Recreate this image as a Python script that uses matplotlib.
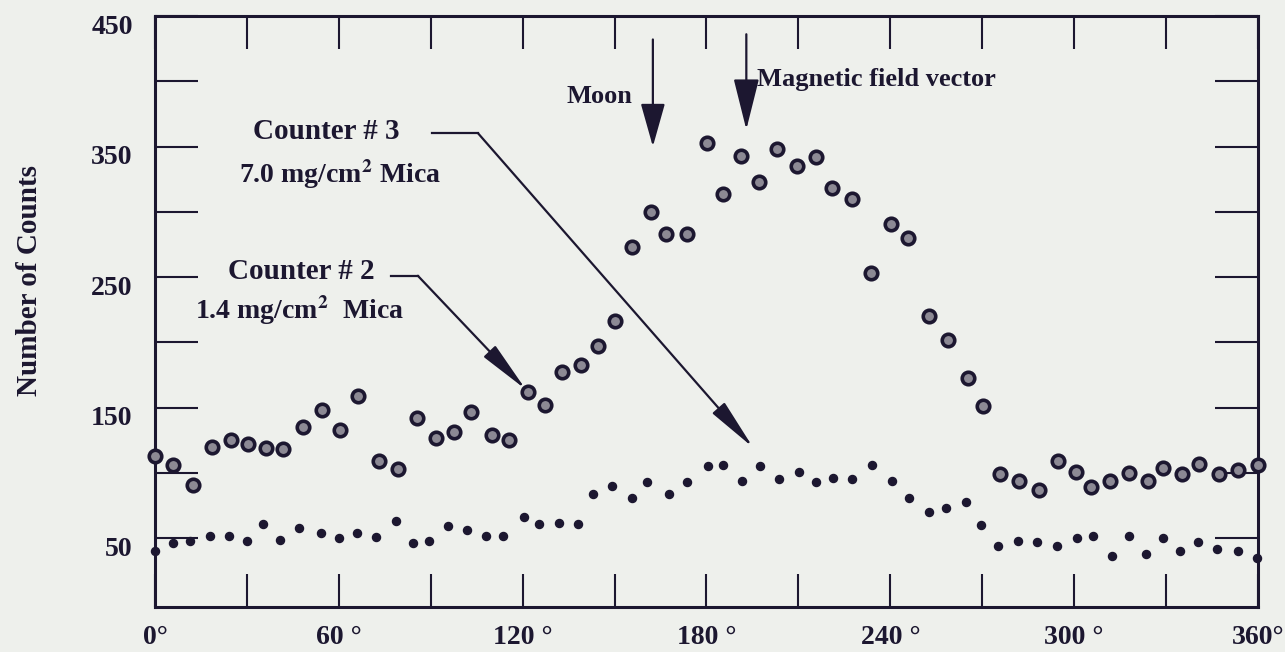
import matplotlib
matplotlib.use("Agg")
import matplotlib.pyplot as plt
import matplotlib.transforms as mtransforms

# counter 2 (1.4 mg/cm2 mica) -- ring markers
c2_angle = [0, 5.8, 12.3, 18.5, 24.7, 30.2, 36.2, 41.7, 48.2, 54.4,
            60.4, 66.4, 73.2, 79.4, 85.4, 91.6, 97.6, 103.0, 109.9, 115.5,
            121.6, 127.3, 132.7, 139.0, 144.7, 150.3, 155.8, 161.8, 166.7, 173.7,
            180.1, 185.5, 191.1, 197.1, 202.9, 209.4, 215.6, 221.0, 227.6, 233.6,
            240.2, 245.8, 252.7, 258.9, 265.2, 270.3, 275.8, 282.1, 288.6, 294.6,
            300.5, 305.5, 311.7, 317.9, 324.0, 329.1, 335.1, 340.8, 347.4, 353.6,
            359.9]
c2_counts = [113, 106, 91, 120, 125, 122, 119, 118, 135, 148,
             133, 159, 109, 103, 142, 127, 131, 147, 129, 125,
             162, 152, 177, 183, 197, 216, 273, 300, 283, 283,
             353, 314, 343, 323, 348, 335, 342, 318, 310, 253,
             291, 280, 220, 202, 173, 151, 99, 94, 87, 109,
             101, 89, 94, 100, 94, 104, 99, 107, 99, 102,
             106]

# counter 3 (7.0 mg/cm2 mica) -- small dots
c3_angle = [0, 5.8, 11.4, 18.0, 24.3, 30.1, 35.3, 40.8, 47.1, 54.1,
            60.1, 66.0, 72.0, 78.7, 84.1, 89.5, 95.7, 101.7, 108.0, 113.7,
            120.3, 125.3, 131.9, 138.2, 142.8, 149.3, 155.6, 160.7, 167.9, 173.5,
            180.5, 185.5, 191.5, 197.6, 203.6, 210.1, 215.7, 221.4, 227.4, 233.9,
            240.4, 246.0, 252.6, 258.2, 264.6, 269.7, 275.2, 281.8, 287.9, 294.5,
            300.8, 306.2, 312.4, 318.0, 323.6, 329.1, 334.5, 340.3, 346.7, 353.6,
            359.6]
c3_counts = [40, 46, 48, 52, 52, 48, 61, 49, 58, 54,
             50, 54, 51, 63, 46, 48, 59, 56, 52, 52,
             66, 61, 62, 61, 84, 90, 81, 93, 84, 93,
             105, 106, 94, 105, 95, 101, 93, 96, 95, 106,
             94, 81, 70, 73, 78, 60, 44, 48, 47, 44,
             50, 52, 36, 52, 38, 50, 40, 47, 42, 40,
             35]

x_ticks = [0, 60, 120, 180, 240, 300, 360]
x_labels = ["0°", "60 °", "120 °", "180 °", "240 °", "300 °", "360°"]
y_ticks = [50, 150, 250, 350, 450]

ink = "#1c1730"
bg = "#eef0ec"
plt.rcParams["font.family"] = ["Liberation Serif", "DejaVu Serif"]
plt.rcParams["font.weight"] = "bold"
plt.rcParams["mathtext.fontset"] = "stix"
plt.rcParams["mathtext.default"] = "bf"

fig = plt.figure(figsize=(12.85, 6.52), dpi=100, facecolor=bg)
ax = fig.add_axes([0.1206, 0.069, 0.8584, 0.9065])
ax.set_facecolor(bg)

ax.plot(c2_angle, c2_counts, "o", ms=9, mfc="#8c8994", mec=ink, mew=2.6,
        clip_on=False, zorder=3)
ax.plot(c3_angle, c3_counts, "o", ms=5.8, color=ink, clip_on=False, zorder=3)

ax.set_xlim(0, 360)
ax.set_ylim(-2.7, 448.5)

ax.set_xticks(x_ticks)
ax.set_xticklabels(x_labels)
ax.set_xticks([30, 90, 150, 210, 270, 330], minor=True)
ax.set_yticks(y_ticks)
ax.set_yticks([100, 200, 300, 400], minor=True)

for s in ax.spines.values():
    s.set_linewidth(2.2)
    s.set_color(ink)

ax.tick_params(axis="both", which="both", direction="in", colors=ink,
               width=1.5, top=True, right=True, labelsize=20)
ax.tick_params(axis="x", which="both", length=24, pad=13)
ax.tick_params(axis="y", which="both", length=31, pad=16)
shift = mtransforms.ScaledTranslation(0, -6 / 72, fig.dpi_scale_trans)
for lab in ax.get_yticklabels():
    lab.set_transform(lab.get_transform() + shift)

fig.text(30 / 1285, 1 - 280 / 652, "Number of Counts", rotation=90,
         ha="center", va="center", fontsize=21, color=ink)

# labels and arrows
ax.text(145, 388, "Moon", color=ink, fontsize=19, ha="center", va="center")
ax.text(196.5, 401, "Magnetic field vector", color=ink, fontsize=19,
        ha="left", va="center")
ax.text(55.8, 361.5, "Counter # 3", color=ink, fontsize=21,
        ha="center", va="center")
ax.text(60.4, 329, "7.0 mg/cm$^{2}$ Mica", color=ink, fontsize=20,
        ha="center", va="center")
ax.text(47.6, 254.6, "Counter # 2", color=ink, fontsize=21,
        ha="center", va="center")
ax.text(47.0, 224.8, "1.4 mg/cm$^{2}$  Mica", color=ink, fontsize=20,
        ha="center", va="center")

fat = dict(arrowstyle="-|>,head_length=1.35,head_width=0.38", color=ink,
           lw=1.6, mutation_scale=20, shrinkA=0, shrinkB=0)
ax.annotate("", xy=(162.5, 350), xytext=(162.5, 432), arrowprops=fat)
ax.annotate("", xy=(193, 363), xytext=(193, 436),
            arrowprops=dict(fat, arrowstyle="-|>,head_length=1.6,head_width=0.4"))

thin = dict(arrowstyle="-|>,head_length=1.6,head_width=0.25", color=ink,
            lw=1.6, mutation_scale=20, shrinkA=0, shrinkB=0)
ax.plot([90.5, 105.5], [360, 360], color=ink, lw=1.6)
ax.annotate("", xy=(195.2, 119.5), xytext=(105.5, 360), arrowprops=thin)
ax.plot([77.1, 85.8], [251, 251], color=ink, lw=1.6)
ax.annotate("", xy=(121.0, 164), xytext=(85.8, 251), arrowprops=thin)

fig.savefig("out.png", dpi=100, facecolor=bg)
